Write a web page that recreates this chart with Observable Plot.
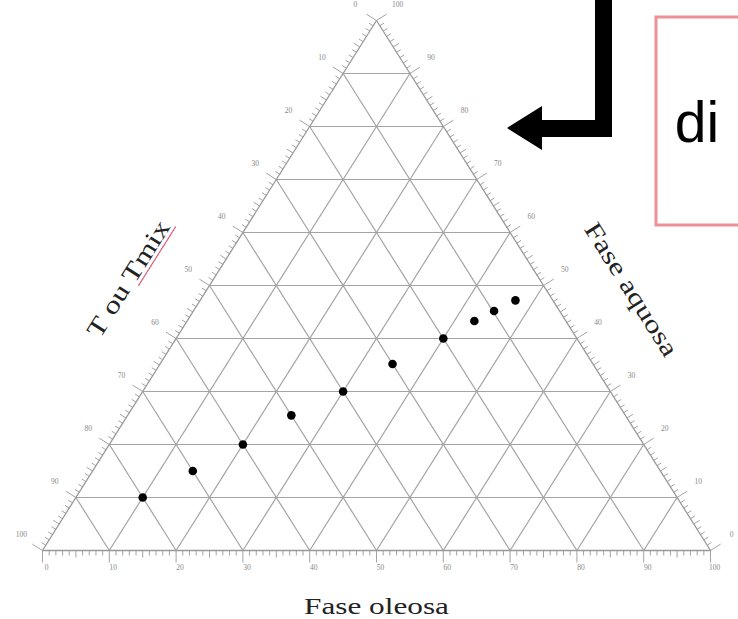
<!DOCTYPE html>
<html><head><meta charset="utf-8">
<script src="https://cdn.jsdelivr.net/npm/d3@7"></script>
<script src="https://cdn.jsdelivr.net/npm/@observablehq/plot@0.6"></script>
<style>
body{margin:0;background:#fff;}
#chart{position:relative;width:738px;height:619px;overflow:hidden;}
</style>
</head><body><div id="chart"></div>
<script>
// ---- data (ternary composition, %) ----
const oleosa = [10, 15, 20, 24.5, 30, 34.8, 40, 43, 45, 47.2];
const aquosa = [10, 15, 20, 25.5, 30, 35.2, 40, 43.3, 45.2, 47.2];
const gridSteps = [10, 20, 30, 40, 50, 60, 70, 80, 90];
const tickLabels = ["0","10","20","30","40","50","60","70","80","90","100"];
const titleBottom = "Fase oleosa";
const titleLeft = "T ou Tmix";
const titleRight = "Fase aquosa";
const noteText = "di";

// ---- layout ----
const W = 738, H = 619;
const xRange = [42, 710], yRange = [550, 20];
const kx = (xRange[1] - xRange[0]) / 100;
const ky = (yRange[0] - yRange[1]) / 100;

const tern = (ol, aq) => ({x: ol + aq / 2, y: aq});
const off = (p, dx, dy) => ({x: p.x + dx / kx, y: p.y - dy / ky});

// edge directions in pixel space
const ldx = (50 * kx), ldy = -(100 * ky);
const ll = Math.hypot(ldx, ldy);
const ul = {x: ldx / ll, y: ldy / ll};
const nL = {x: ul.y, y: -ul.x};          // outward normal, left edge
const nR = {x: -ul.y, y: -ul.x};         // outward normal, right edge
const edgeAngle = Math.atan2(ul.y, ul.x) * 180 / Math.PI;

// grid segments
const grid = [];
for (const k of gridSteps) {
  grid.push([tern(0, k), tern(100 - k, k)]);
  grid.push([tern(k, 0), tern(k, 100 - k)]);
  grid.push([tern(100 - k, 0), tern(0, 100 - k)]);
}
const edges = [
  [tern(0, 0), tern(100, 0)],
  [tern(100, 0), tern(0, 100)],
  [tern(0, 100), tern(0, 0)]
];

// ticks
const ticks = [];
const labels = [];
for (let v = 0; v <= 100; v++) {
  const major = v % 10 === 0;
  const len = major ? 12 : (v % 5 === 0 ? 7 : 5);
  const b = tern(v, 0);
  ticks.push([b, off(b, 0, len)]);
  const l = tern(0, 100 - v);
  ticks.push([l, off(l, nL.x * len, nL.y * len)]);
  const r = tern(100 - v, v);
  ticks.push([r, off(r, nR.x * len, nR.y * len)]);
  if (major) {
    const t = tickLabels[v / 10];
    labels.push({...off(b, 4, 17), t});
    labels.push({...off(l, nL.x * 25, nL.y * 25 - 3), t});
    labels.push({...off(r, nR.x * 25, nR.y * 25 - 3), t});
  }
}

const pts = oleosa.map((o, i) => tern(o, aquosa[i]));

const tl = off(tern(0, 44), nL.x * 72, nL.y * 72);
const tr = off(tern(58, 42), nR.x * 72, nR.y * 72);
const tb = off(tern(50, 0), 0, 56);
const squiggle = [off(tern(0, 44), nL.x * 60, nL.y * 60), off(tern(0, 55), nL.x * 60, nL.y * 60)];

const seg = (data, opts) => Plot.link(data, {x1: d => d[0].x, y1: d => d[0].y, x2: d => d[1].x, y2: d => d[1].y, ...opts});

const chart = Plot.plot({
  width: W, height: H,
  margin: 0,
  style: {fontFamily: "Liberation Serif", background: "#fff"},
  x: {domain: [0, 100], range: xRange, axis: null},
  y: {domain: [0, 100], range: yRange, axis: null},
  marks: [
    seg(grid, {stroke: "#a4a4a4", strokeWidth: 1.2}),
    seg(edges, {stroke: "#999", strokeWidth: 1.3}),
    seg(ticks, {stroke: "#999", strokeWidth: 0.9}),
    Plot.text(labels, {x: "x", y: "y", text: "t", fontSize: 7.5, fill: "#888"}),
    Plot.dot(pts, {x: "x", y: "y", r: 4.3, fill: "#000", stroke: "none"}),
    Plot.line(squiggle, {x: "x", y: "y", stroke: "#d9607a", strokeWidth: 1.3, strokeDasharray: "2,1.2"}),
    Plot.text([tb], {x: "x", y: "y", text: () => titleBottom, fontSize: 23, fill: "#222", lineAnchor: "middle"}),
    Plot.text([tl], {x: "x", y: "y", text: () => titleLeft, fontSize: 25, fill: "#222", rotate: edgeAngle, lineAnchor: "middle"}),
    Plot.text([tr], {x: "x", y: "y", text: () => titleRight, fontSize: 25, fill: "#222", rotate: -edgeAngle, lineAnchor: "middle"})
  ]
});

const svg = d3.select(chart);
const fit = {[titleBottom]: 145, [titleLeft]: 133, [titleRight]: 153};
svg.selectAll("text").each(function () {
  const t = this.textContent;
  if (fit[t]) d3.select(this).attr("textLength", fit[t]).attr("lengthAdjust", "spacingAndGlyphs");
});

// decorative overlay from the source slide: arrow and cropped text box
const deco = svg.append("g");
deco.append("polygon")
  .attr("points", "507,128 542,106 542,120 595,120 595,-5 612,-5 612,137 542,137 542,150")
  .attr("fill", "#000");
deco.append("rect")
  .attr("x", 656).attr("y", 17).attr("width", 140).attr("height", 208)
  .attr("fill", "none").attr("stroke", "#ee9097").attr("stroke-width", 3);
deco.append("text")
  .attr("x", 697).attr("y", 142)
  .attr("font-family", "Liberation Sans").attr("font-size", 57).attr("fill", "#000")
  .text(noteText);

document.getElementById("chart").appendChild(chart);
</script>
</body></html>
